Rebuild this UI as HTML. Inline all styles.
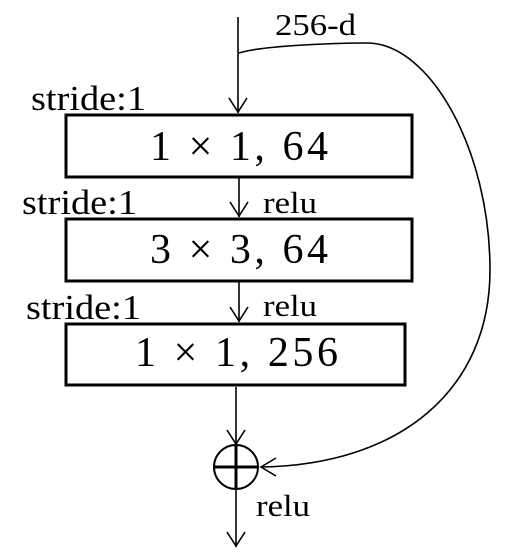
<!DOCTYPE html>
<html><head><meta charset="utf-8"><style>
html,body{margin:0;padding:0;background:#fff;}
svg{display:block;}
text{font-family:"Liberation Serif",serif;fill:#000;}
</style></head><body>
<svg width="523" height="558" viewBox="0 0 523 558">
<g stroke="#000" fill="none" stroke-width="1.6">
  <line x1="238" y1="17" x2="238" y2="113"/>
  <polyline points="229,98 238,112 247,98"/>
  <line x1="239" y1="178" x2="239" y2="217"/>
  <polyline points="230,202 239,216 248,202"/>
  <line x1="239" y1="282" x2="239" y2="322"/>
  <polyline points="230,307 239,321 248,307"/>
  <line x1="236" y1="387" x2="236" y2="445"/>
  <polyline points="227,430 236,444 245,430"/>
  <line x1="236" y1="489" x2="236" y2="547"/>
  <polyline points="227,532 236,546 245,532"/>
  <path d="M239,53 C260,46 330,43 367,43 C430,43 490,150 490,270 C490,390 400,465 261,467"/>
  <polyline points="276,458 261,467 276,476"/>
</g>
<g stroke="#000" fill="#fff" stroke-width="3">
  <rect x="66" y="115" width="346" height="62"/>
  <rect x="66" y="219" width="346" height="62"/>
  <rect x="66" y="324" width="339" height="61"/>
</g>
<g stroke="#000" fill="none">
  <circle cx="236" cy="467" r="22" stroke-width="2"/>
  <line x1="214" y1="467" x2="258" y2="467" stroke-width="3"/>
  <line x1="236" y1="445" x2="236" y2="489" stroke-width="3"/>
</g>
<text x="150" y="160" font-size="42" textLength="178" lengthAdjust="spacing">1 × 1, 64</text>
<text x="150" y="263" font-size="42" textLength="178" lengthAdjust="spacing">3 × 3, 64</text>
<text x="135" y="366" font-size="42" textLength="203" lengthAdjust="spacing">1 × 1, 256</text>
<text x="275" y="35" font-size="31" textLength="81" lengthAdjust="spacingAndGlyphs">256-d</text>
<text x="31" y="110" font-size="35" textLength="115" lengthAdjust="spacingAndGlyphs">stride:1</text>
<text x="22" y="214" font-size="35" textLength="115" lengthAdjust="spacingAndGlyphs">stride:1</text>
<text x="26" y="319" font-size="35" textLength="115" lengthAdjust="spacingAndGlyphs">stride:1</text>
<text x="263" y="213" font-size="31" textLength="54" lengthAdjust="spacingAndGlyphs">relu</text>
<text x="263" y="316" font-size="31" textLength="54" lengthAdjust="spacingAndGlyphs">relu</text>
<text x="256" y="516" font-size="31" textLength="54" lengthAdjust="spacingAndGlyphs">relu</text>
</svg>
</body></html>
